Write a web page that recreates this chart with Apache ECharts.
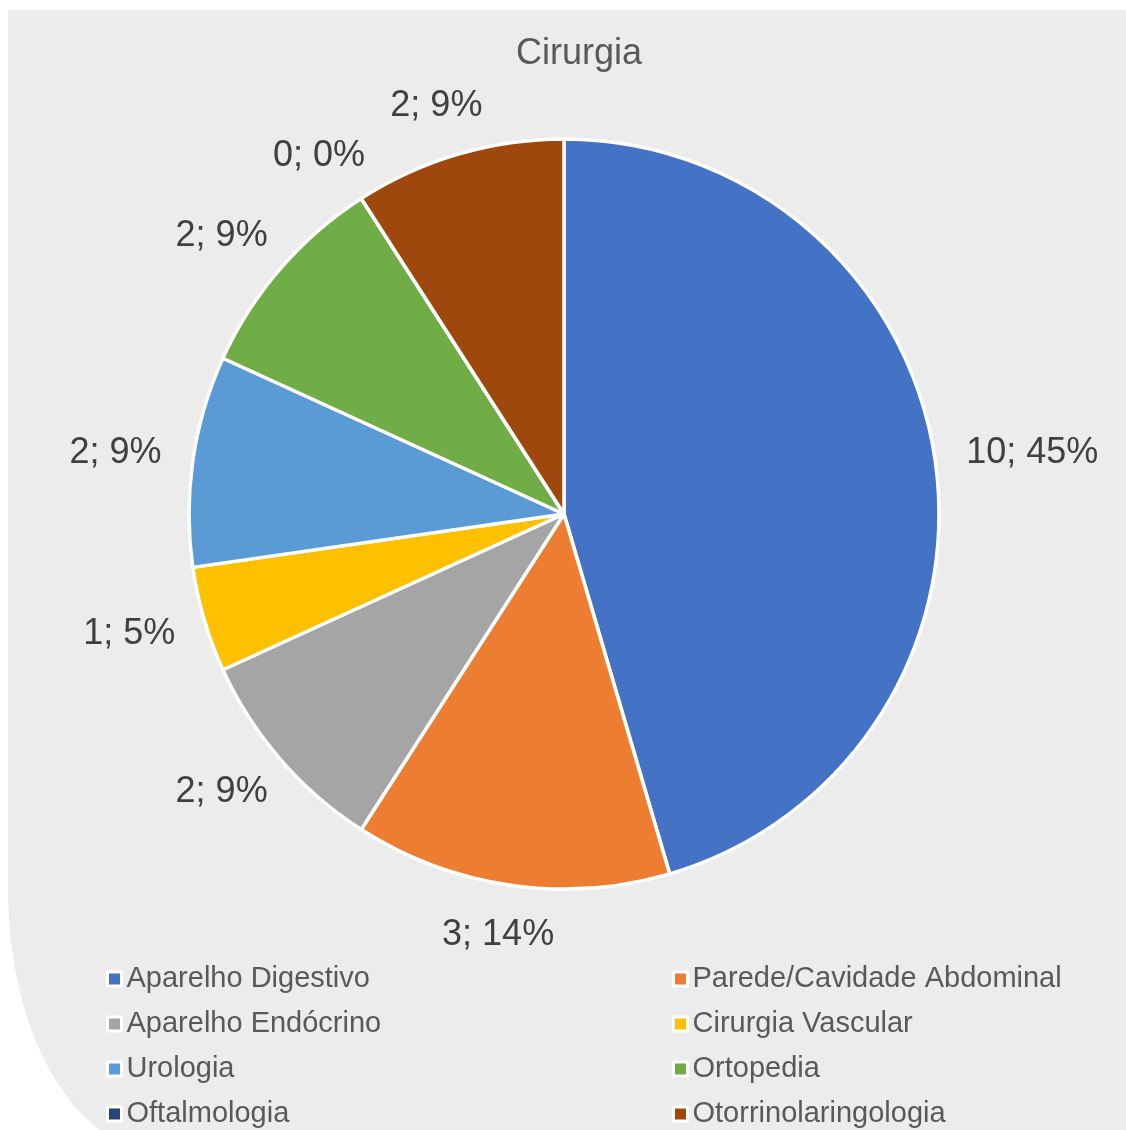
<!DOCTYPE html>
<html>
<head>
<meta charset="utf-8">
<script src="https://cdn.jsdelivr.net/npm/echarts@6/dist/echarts.min.js"></script>
<style>
  html, body { margin: 0; padding: 0; background: #ffffff; overflow: hidden; }
  #panel {
    position: absolute; left: 8px; top: 10px; width: 1118px; height: 1140px;
    background: #ececec; border-bottom-left-radius: 150px 260px;
  }
  #chart { position: absolute; left: 0; top: 0; width: 1126px; height: 1130px; }
</style>
</head>
<body>
<div id="panel"></div>
<div id="chart"></div>
<script>
// Surgical specialties and number of cases
const chartTitle = 'Cirurgia';
const categories = [
  'Aparelho Digestivo',
  'Parede/Cavidade Abdominal',
  'Aparelho Endócrino',
  'Cirurgia Vascular',
  'Urologia',
  'Ortopedia',
  'Oftalmologia',
  'Otorrinolaringologia'
];
const counts = [10, 3, 2, 1, 2, 2, 0, 2];
const sliceColors = ['#4472C4', '#ED7D31', '#A5A5A5', '#FFC000', '#5B9BD5', '#70AD47', '#264478', '#9E480E'];
// Legend is laid out in two columns
const legendColumnLeft = ['Aparelho Digestivo', 'Aparelho Endócrino', 'Urologia', 'Oftalmologia'];
const legendColumnRight = ['Parede/Cavidade Abdominal', 'Cirurgia Vascular', 'Ortopedia', 'Otorrinolaringologia'];

const FONT = "'Liberation Sans', Arial, sans-serif";
const PIE_CX = 564, PIE_CY = 514, PIE_R = 375;
const LABEL_GAP = 32;

const total = counts.reduce((a, b) => a + b, 0);

// Angle (from 12 o'clock, clockwise) of the middle of slice i
function midAngle(i) {
  let before = 0;
  for (let k = 0; k < i; k++) before += counts[k];
  return 2 * Math.PI * (before + counts[i] / 2) / total;
}

const chart = echarts.init(document.getElementById('chart'), null, { renderer: 'canvas' });

const legendBase = {
  orient: 'vertical',
  top: 964,
  padding: 0,
  itemWidth: 14,
  itemHeight: 14,
  itemGap: 15,
  icon: 'rect',
  selectedMode: false,
  itemStyle: { borderColor: '#ffffff', borderWidth: 3 },
  textStyle: { fontFamily: FONT, fontSize: 29, color: '#595959', lineHeight: 30 }
};

chart.setOption({
  backgroundColor: 'transparent',
  animation: false,
  color: sliceColors,
  title: {
    text: chartTitle,
    left: 574,
    top: 31,
    textAlign: 'center',
    textStyle: { fontFamily: FONT, fontSize: 36, fontWeight: 'normal', color: '#595959' }
  },
  legend: [
    Object.assign({}, legendBase, { left: 106, data: legendColumnLeft }),
    Object.assign({}, legendBase, { left: 672, data: legendColumnRight })
  ],
  series: [{
    type: 'pie',
    center: [PIE_CX, PIE_CY],
    radius: PIE_R,
    startAngle: 90,
    clockwise: true,
    avoidLabelOverlap: false,
    silent: true,
    itemStyle: { borderColor: '#ffffff', borderWidth: 3.5 },
    label: {
      show: true,
      position: 'outside',
      fontFamily: FONT,
      fontSize: 36,
      color: '#404040',
      formatter: p => p.value + '; ' + Math.round(p.value / total * 100) + '%'
    },
    labelLine: { show: false },
    // Each label sits just outside the rim, pushed out along the slice's mid direction
    labelLayout: function (p) {
      const a = midAngle(p.dataIndex);
      const dx = Math.sin(a), dy = -Math.cos(a);
      const w = p.labelRect.width, h = p.labelRect.height;
      const d = PIE_R + LABEL_GAP;
      return {
        x: PIE_CX + dx * d + dx * w / 2,
        y: PIE_CY + dy * d + dy * h / 2,
        align: 'center',
        verticalAlign: 'middle'
      };
    },
    data: categories.map((name, i) => ({ name: name, value: counts[i] }))
  }]
});
</script>
</body>
</html>
